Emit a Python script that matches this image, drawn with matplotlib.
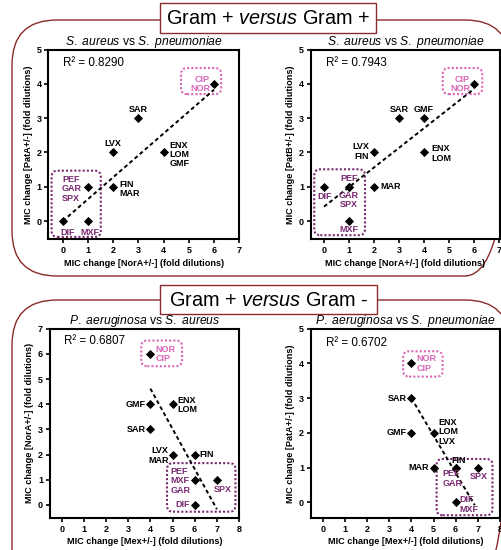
import matplotlib
matplotlib.use("Agg")
import matplotlib.pyplot as plt
from matplotlib.patches import FancyBboxPatch, Rectangle

plt.rcParams['font.family'] = ['Liberation Sans', 'DejaVu Sans']
plt.rcParams['mathtext.fontset'] = 'custom'
plt.rcParams['mathtext.rm'] = 'Liberation Sans'
plt.rcParams['mathtext.it'] = 'Liberation Sans:italic'

W, H = 501, 550
frame_col = "#8b2a2a"
pink = "#d966b8"
purple = "#7a2a72"
cols = {"k": "black", "pink": pink, "purple": purple}

# ---- data: panel 1 (S. aureus vs S. pneumoniae, NorA vs PatA)
p1_names = ["CIP\nNOR", "SAR", "LVX", "ENX\nLOM\nGMF", "FIN\nMAR", "PEF\nGAR\nSPX", "DIF", "MXF"]
p1_x = [6, 3, 2, 4, 2, 1, 0, 1]
p1_y = [4, 3, 2, 2, 1, 1, 0, 0]
p1_group = ["pink", "k", "k", "k", "k", "purple", "purple", "purple"]
p1_fit_x = [0, 6]
p1_fit_y = [0.0, 3.83]
p1_r2 = "R² = 0.8290"

# ---- panel 2 (S. aureus vs S. pneumoniae, NorA vs PatB)
p2_names = ["CIP\nNOR", "SAR", "GMF", "LVX\nFIN", "ENX\nLOM", "MAR", "DIF", "PEF", "GAR\nSPX", "MXF"]
p2_x = [6, 3, 4, 2, 4, 2, 0, 1, 1, 1]
p2_y = [4, 3, 3, 2, 2, 1, 1, 1, 1, 0]
p2_group = ["pink", "k", "k", "k", "k", "k", "purple", "purple", "purple", "purple"]
p2_fit_x = [0, 6]
p2_fit_y = [0.42, 3.85]
p2_r2 = "R² = 0.7943"

# ---- panel 3 (P. aeruginosa vs S. aureus, Mex vs NorA)
p3_names = ["NOR\nCIP", "GMF", "ENX\nLOM", "SAR", "LVX\nMAR", "FIN", "PEF\nMXF\nGAR", "SPX", "DIF"]
p3_x = [4, 4, 5, 4, 5, 6, 6, 7, 6]
p3_y = [6, 4, 4, 3, 2, 2, 1, 1, 0]
p3_group = ["pink", "k", "k", "k", "k", "k", "purple", "purple", "purple"]
p3_fit_x = [4, 7]
p3_fit_y = [4.62, -0.17]
p3_r2 = "R² = 0.6807"

# ---- panel 4 (P. aeruginosa vs S. pneumoniae, Mex vs PatA)
p4_names = ["NOR\nCIP", "SAR", "GMF", "ENX\nLOM\nLVX", "MAR", "FIN", "PEF\nGAR", "SPX", "DIF\nMXF"]
p4_x = [4, 4, 4, 5, 5, 6, 6, 7, 6]
p4_y = [4, 3, 2, 2, 1, 1, 1, 1, 0]
p4_group = ["pink", "k", "k", "k", "k", "k", "purple", "purple", "purple"]
p4_fit_x = [4, 6.86]
p4_fit_y = [3.0, -0.08]
p4_r2 = "R² = 0.6702"

# label placement (dx px, dy px, ha, va, multialignment)
p1_place = [(-4, 0, 'right', 'center', 'right'), (0, 4, 'center', 'bottom', 'center'),
            (0, 4, 'center', 'bottom', 'center'), (6, -2, 'left', 'center', 'left'),
            (6, -2, 'left', 'center', 'left'), (-6, -2, 'right', 'center', 'left'),
            (5, -11, 'center', 'center', 'center'), (2, -11, 'center', 'center', 'center')]
p2_place = [(-4, 0, 'right', 'center', 'right'), (0, 4, 'center', 'bottom', 'center'),
            (0, 4, 'center', 'bottom', 'center'), (-5, 1, 'right', 'center', 'right'),
            (7, -1, 'left', 'center', 'left'), (6, 0, 'left', 'center', 'left'),
            (1, -10, 'center', 'center', 'center'), (0, 8, 'center', 'center', 'center'),
            (0, -13, 'center', 'center', 'center'), (0, -8.5, 'center', 'center', 'center')]
p3_place = [(5, 0, 'left', 'center', 'left'), (-5, 0, 'right', 'center', 'right'),
            (4.5, -1, 'left', 'center', 'left'), (-5, 0, 'right', 'center', 'right'),
            (-4, -1, 'right', 'center', 'right'), (5, 0, 'left', 'center', 'left'),
            (-4, -1, 'right', 'center', 'left'), (6, -10, 'center', 'center', 'center'),
            (-5, 0, 'right', 'center', 'right')]
p4_place = [(5, 0, 'left', 'center', 'left'), (-5, 0, 'right', 'center', 'right'),
            (-5, 0, 'right', 'center', 'right'), (4.5, 1, 'left', 'center', 'left'),
            (-5, 0, 'right', 'center', 'right'), (-4, 7, 'left', 'center', 'left'),
            (-13, -11, 'left', 'center', 'left'), (1, -9, 'center', 'center', 'center'),
            (4, -2, 'left', 'center', 'left')]

# dotted group boxes: x0, x1, y0, y1
p1_boxes = [("pink", 4.69, 6.28, 3.70, 4.46), ("purple", -0.44, 1.51, -0.46, 1.47)]
p2_boxes = [("pink", 4.75, 6.33, 3.70, 4.46), ("purple", -0.39, 1.64, -0.41, 1.51)]
p3_boxes = [("pink", 3.59, 5.43, 5.51, 6.53), ("purple", 4.75, 7.84, -0.27, 1.66)]
p4_boxes = [("pink", 3.63, 5.41, 3.62, 4.35), ("purple", 5.14, 7.66, -0.37, 1.25)]

fig = plt.figure(figsize=(W / 100, H / 100), dpi=100)

# background frames
bg = fig.add_axes([0, 0, 1, 1], zorder=0)
bg.set_xlim(0, W)
bg.set_ylim(H, 0)
bg.axis('off')
bg.add_patch(FancyBboxPatch((12, 20), 498, 256, boxstyle="round,pad=0,rounding_size=45",
                            fc='none', ec=frame_col, lw=1.0))
bg.add_patch(FancyBboxPatch((12, 300), 498, 300, boxstyle="round,pad=0,rounding_size=45",
                            fc='none', ec=frame_col, lw=1.0))
bg.add_patch(Rectangle((160, 3), 216, 30, fc='white', ec=frame_col, lw=1.0, zorder=3))
bg.add_patch(Rectangle((160, 285), 217, 29, fc='white', ec=frame_col, lw=1.0, zorder=3))
bg.text(268, 18.5, r"Gram + $\mathit{versus}$ Gram +", ha='center', va='center', fontsize=14.3, zorder=4)
bg.text(268.5, 300, r"Gram + $\mathit{versus}$ Gram -", ha='center', va='center', fontsize=14.3, zorder=4)


def panel(l, t, r, b, xlim, ylim, xticks, yticks, title, xlabel, ylabel,
          r2, r2pos, names, xs, ys, groups, place, fit_x, fit_y, boxes):
    ax = fig.add_axes([l / W, 1 - b / H, (r - l) / W, (b - t) / H], zorder=2)
    ax.set_xlim(*xlim)
    ax.set_ylim(*ylim)
    ax.set_xticks(xticks)
    ax.set_yticks(yticks)
    for s in ['top', 'right', 'left', 'bottom']:
        ax.spines[s].set_linewidth(1.5)
    ax.tick_params(direction='out', length=3, width=1.2, pad=2, labelsize=6.5)
    for lab in ax.get_xticklabels() + ax.get_yticklabels():
        lab.set_fontweight('bold')
    ax.set_title(title, fontsize=8.7, pad=1.5)
    ax.set_xlabel(xlabel, fontsize=6.6, fontweight='bold', labelpad=2.5)
    ax.set_ylabel(ylabel, fontsize=6.6, fontweight='bold', labelpad=2.5)
    ax.text(r2pos[0], r2pos[1], r2, transform=ax.transAxes, fontsize=8.4, ha='left', va='center')

    ax.plot(fit_x, fit_y, color='black', lw=1.4, ls=(0, (2, 1.5)), zorder=3)
    ax.plot(xs, ys, 'D', color='black', ms=4.3, mew=0.6, ls='none', zorder=4)

    for name, x, y, g, (dx, dy, ha, va, ma) in zip(names, xs, ys, groups, place):
        ax.annotate(name, (x, y), xytext=(dx, dy), textcoords='offset pixels',
                    ha=ha, va=va, multialignment=ma, fontsize=6.5, fontweight='bold',
                    color=cols[g], linespacing=1.05, zorder=5)

    pxx = (r - l) / (xlim[1] - xlim[0])
    pxy = (b - t) / (ylim[1] - ylim[0])
    rad = 6.0 / pxx
    for g, x0, x1, y0, y1 in boxes:
        ax.add_patch(FancyBboxPatch((x0, y0), x1 - x0, y1 - y0,
                                    boxstyle="round,pad=0,rounding_size=%f" % rad,
                                    mutation_aspect=pxx / pxy, fc='none', ec=cols[g],
                                    lw=1.5, ls=(0, (1, 1)), zorder=2, clip_on=False))
    return ax


t1 = r"$\mathit{S.\ aureus}$ vs $\mathit{S.\ pneumoniae}$"
t3 = r"$\mathit{P.\ aeruginosa}$ vs $\mathit{S.\ aureus}$"
t4 = r"$\mathit{P.\ aeruginosa}$ vs $\mathit{S.\ pneumoniae}$"

panel(48.3, 49.5, 239.3, 239.3, (-0.57, 7), (-0.53, 5), range(0, 8), range(0, 6), t1,
      "MIC change [NorA+/-] (fold dilutions)", "MIC change [PatA+/-] (fold dilutions)",
      p1_r2, (0.077, 0.93), p1_names, p1_x, p1_y, p1_group, p1_place, p1_fit_x, p1_fit_y, p1_boxes)
panel(311, 49.5, 500, 239.3, (-0.52, 7.04), (-0.53, 5), range(0, 8), range(0, 6), t1,
      "MIC change [NorA+/-] (fold dilutions)", "MIC change [PatB+/-] (fold dilutions)",
      p2_r2, (0.079, 0.93), p2_names, p2_x, p2_y, p2_group, p2_place, p2_fit_x, p2_fit_y, p2_boxes)
panel(50, 328.7, 239, 518, (-0.53, 8), (-0.52, 7), range(0, 9), range(0, 8), t3,
      "MIC change [Mex+/-] (fold dilutions)", "MIC change [NorA+/-] (fold dilutions)",
      p3_r2, (0.074, 0.935), p3_names, p3_x, p3_y, p3_group, p3_place, p3_fit_x, p3_fit_y, p3_boxes)
panel(311, 328.7, 500, 518, (-0.53, 8), (-0.45, 5), range(0, 9), range(0, 6), t4,
      "MIC change [Mex+/-] (fold dilutions)", "MIC change [PatA+/-] (fold dilutions)",
      p4_r2, (0.079, 0.926), p4_names, p4_x, p4_y, p4_group, p4_place, p4_fit_x, p4_fit_y, p4_boxes)

fig.savefig("out.png", dpi=100)
